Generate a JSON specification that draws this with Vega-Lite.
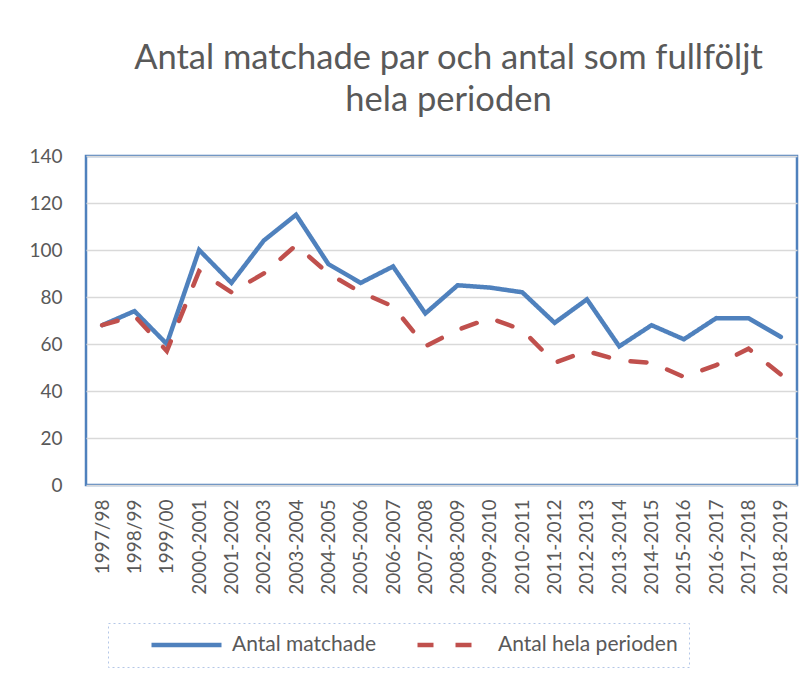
{
  "$schema": "https://vega.github.io/schema/vega-lite/v6.json",
  "width": 711,
  "height": 329,
  "autosize": {"type": "none"},
  "padding": {"left": 86, "top": 156, "right": 14, "bottom": 190},
  "background": "white",
  "title": {
    "text": ["Antal matchade par och antal som fullföljt", "hela perioden"],
    "font": "Lato",
    "fontSize": 34.5,
    "fontWeight": "normal",
    "color": "#595959",
    "anchor": "middle",
    "offset": 29,
    "lineHeight": 42,
    "dx": 7
  },
  "data": {
    "values": [
      {"period": "1997/98", "serie": "Antal matchade", "value": 68},
      {"period": "1998/99", "serie": "Antal matchade", "value": 74},
      {"period": "1999/00", "serie": "Antal matchade", "value": 60},
      {"period": "2000-2001", "serie": "Antal matchade", "value": 100},
      {"period": "2001-2002", "serie": "Antal matchade", "value": 86},
      {"period": "2002-2003", "serie": "Antal matchade", "value": 104},
      {"period": "2003-2004", "serie": "Antal matchade", "value": 115},
      {"period": "2004-2005", "serie": "Antal matchade", "value": 94},
      {"period": "2005-2006", "serie": "Antal matchade", "value": 86},
      {"period": "2006-2007", "serie": "Antal matchade", "value": 93},
      {"period": "2007-2008", "serie": "Antal matchade", "value": 73},
      {"period": "2008-2009", "serie": "Antal matchade", "value": 85},
      {"period": "2009-2010", "serie": "Antal matchade", "value": 84},
      {"period": "2010-2011", "serie": "Antal matchade", "value": 82},
      {"period": "2011-2012", "serie": "Antal matchade", "value": 69},
      {"period": "2012-2013", "serie": "Antal matchade", "value": 79},
      {"period": "2013-2014", "serie": "Antal matchade", "value": 59},
      {"period": "2014-2015", "serie": "Antal matchade", "value": 68},
      {"period": "2015-2016", "serie": "Antal matchade", "value": 62},
      {"period": "2016-2017", "serie": "Antal matchade", "value": 71},
      {"period": "2017-2018", "serie": "Antal matchade", "value": 71},
      {"period": "2018-2019", "serie": "Antal matchade", "value": 63},
      {"period": "1997/98", "serie": "Antal hela perioden", "value": 68},
      {"period": "1998/99", "serie": "Antal hela perioden", "value": 72},
      {"period": "1999/00", "serie": "Antal hela perioden", "value": 57},
      {"period": "2000-2001", "serie": "Antal hela perioden", "value": 91},
      {"period": "2001-2002", "serie": "Antal hela perioden", "value": 82},
      {"period": "2002-2003", "serie": "Antal hela perioden", "value": 90},
      {"period": "2003-2004", "serie": "Antal hela perioden", "value": 102},
      {"period": "2004-2005", "serie": "Antal hela perioden", "value": 90},
      {"period": "2005-2006", "serie": "Antal hela perioden", "value": 82},
      {"period": "2006-2007", "serie": "Antal hela perioden", "value": 76},
      {"period": "2007-2008", "serie": "Antal hela perioden", "value": 59},
      {"period": "2008-2009", "serie": "Antal hela perioden", "value": 66},
      {"period": "2009-2010", "serie": "Antal hela perioden", "value": 71},
      {"period": "2010-2011", "serie": "Antal hela perioden", "value": 66},
      {"period": "2011-2012", "serie": "Antal hela perioden", "value": 52},
      {"period": "2012-2013", "serie": "Antal hela perioden", "value": 57},
      {"period": "2013-2014", "serie": "Antal hela perioden", "value": 53},
      {"period": "2014-2015", "serie": "Antal hela perioden", "value": 52},
      {"period": "2015-2016", "serie": "Antal hela perioden", "value": 46},
      {"period": "2016-2017", "serie": "Antal hela perioden", "value": 51},
      {"period": "2017-2018", "serie": "Antal hela perioden", "value": 58},
      {"period": "2018-2019", "serie": "Antal hela perioden", "value": 47}
    ]
  },
  "mark": {"type": "line", "strokeWidth": 4.5, "strokeCap": "round"},
  "encoding": {
    "x": {
      "field": "period",
      "type": "nominal",
      "sort": null,
      "axis": {
        "title": null,
        "labelAngle": -90,
        "labelFont": "Lato",
        "labelFontSize": 19,
        "labelColor": "#595959",
        "labelPadding": 14,
        "ticks": false,
        "domain": false,
        "grid": false
      }
    },
    "y": {
      "field": "value",
      "type": "quantitative",
      "scale": {"domain": [0, 140], "nice": false},
      "axis": {
        "title": null,
        "values": [0, 20, 40, 60, 80, 100, 120, 140],
        "labelFont": "Lato",
        "labelFontSize": 19,
        "labelColor": "#595959",
        "labelPadding": 24,
        "ticks": false,
        "domain": false,
        "gridColor": "#d9d9d9",
        "gridWidth": 1.5
      }
    },
    "color": {
      "field": "serie",
      "type": "nominal",
      "scale": {"domain": ["Antal matchade", "Antal hela perioden"], "range": ["#4f81bd", "#c0504d"]},
      "legend": {
        "title": null,
        "orient": "none",
        "legendX": 22,
        "legendY": 467,
        "direction": "horizontal",
        "symbolType": "stroke",
        "symbolSize": 4900,
        "symbolStrokeWidth": 4.5,
        "clipHeight": 22,
        "labelFont": "Lato",
        "labelFontSize": 21,
        "labelLimit": 400,
        "labelColor": "#595959",
        "labelOffset": 8,
        "columnPadding": 8,
        "padding": 11,
        "strokeColor": "#b4c7e7",
        "symbolOffset": 30,
        "encode": {
          "legend": {"update": {"strokeDash": {"value": [2, 3]}}}
        }
      }
    },
    "strokeDash": {
      "field": "serie",
      "type": "nominal",
      "scale": {"domain": ["Antal matchade", "Antal hela perioden"], "range": [[1, 0], [16, 22]]},
      "legend": null
    }
  },
  "config": {
    "view": {"stroke": "#4f81bd", "strokeWidth": 2.5}
  }
}
